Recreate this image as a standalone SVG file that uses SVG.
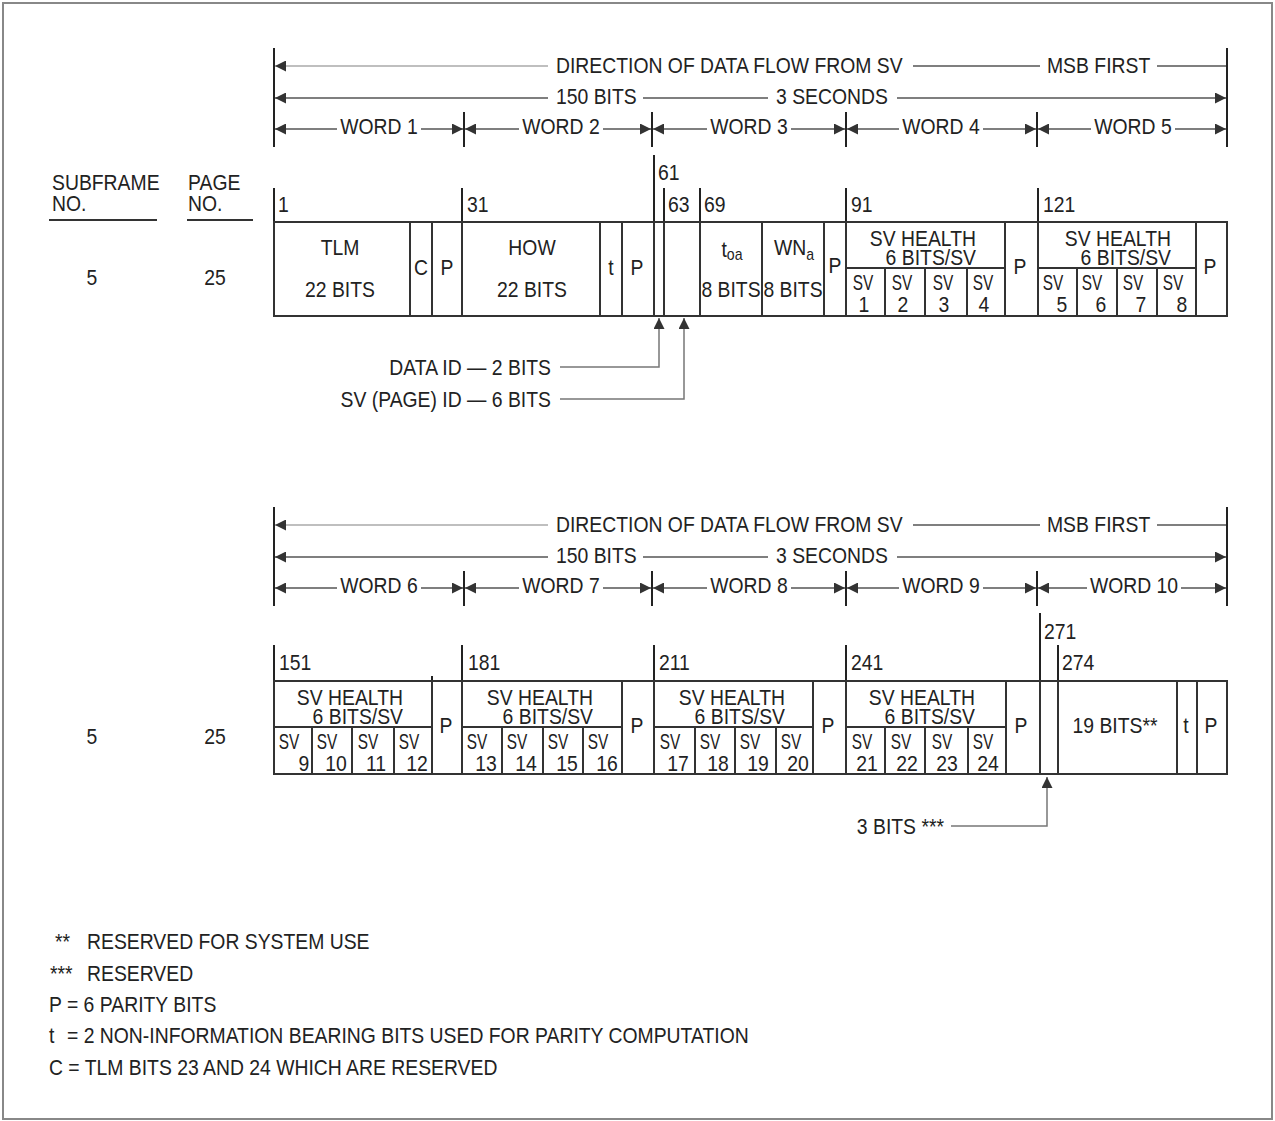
<svg xmlns="http://www.w3.org/2000/svg" width="1275" height="1121" viewBox="0 0 1275 1121">
<style>
text{font-family:"Liberation Sans",Arial,Helvetica,sans-serif;font-size:22px;fill:#222}
.m{text-anchor:middle}
.e{text-anchor:end}
.ln{stroke:#555;stroke-width:1.4;fill:none}
.lt{stroke:#aaa}
.tk{stroke:#222;stroke-width:2}
.bx{fill:none;stroke:#333;stroke-width:2}
.cn{stroke:#777;stroke-width:1.5;fill:none}
.ul{stroke:#333;stroke-width:2}
.sub{font-size:16px}
</style>
<defs>
<marker id="ah" viewBox="0 0 11 11" refX="11" refY="5.5" markerWidth="11" markerHeight="11" markerUnits="userSpaceOnUse" orient="auto-start-reverse"><path d="M0,0L11,5.5L0,11z" fill="#333"/></marker>
</defs>
<rect x="3" y="3" width="1269" height="1116" fill="#fff" stroke="#888" stroke-width="2"/>

<!-- ===== connectors ===== -->
<g id="connectors">
 <g id="dims-1">
  <line class="ln lt" x1="275" y1="66" x2="548" y2="66" marker-start="url(#ah)"/>
  <line class="ln" x1="913" y1="66" x2="1040" y2="66"/>
  <line class="ln" x1="1157" y1="66" x2="1227" y2="66"/>
  <line class="ln" x1="275" y1="98" x2="548" y2="98" marker-start="url(#ah)"/>
  <line class="ln" x1="643" y1="98" x2="768" y2="98"/>
  <line class="ln" x1="897" y1="98" x2="1226" y2="98" marker-end="url(#ah)"/>
  <line class="ln" x1="275" y1="129" x2="337" y2="129" marker-start="url(#ah)"/>
  <line class="ln" x1="421" y1="129" x2="463" y2="129" marker-end="url(#ah)"/>
  <line class="ln" x1="465" y1="129" x2="519" y2="129" marker-start="url(#ah)"/>
  <line class="ln" x1="603" y1="129" x2="651" y2="129" marker-end="url(#ah)"/>
  <line class="ln" x1="653" y1="129" x2="707" y2="129" marker-start="url(#ah)"/>
  <line class="ln" x1="791" y1="129" x2="845" y2="129" marker-end="url(#ah)"/>
  <line class="ln" x1="847" y1="129" x2="899" y2="129" marker-start="url(#ah)"/>
  <line class="ln" x1="983" y1="129" x2="1036" y2="129" marker-end="url(#ah)"/>
  <line class="ln" x1="1038" y1="129" x2="1091" y2="129" marker-start="url(#ah)"/>
  <line class="ln" x1="1175" y1="129" x2="1226" y2="129" marker-end="url(#ah)"/>
 </g>
 <g id="dims-2" transform="translate(0 459)">
  <line class="ln lt" x1="275" y1="66" x2="548" y2="66" marker-start="url(#ah)"/>
  <line class="ln" x1="913" y1="66" x2="1040" y2="66"/>
  <line class="ln" x1="1157" y1="66" x2="1227" y2="66"/>
  <line class="ln" x1="275" y1="98" x2="548" y2="98" marker-start="url(#ah)"/>
  <line class="ln" x1="643" y1="98" x2="768" y2="98"/>
  <line class="ln" x1="897" y1="98" x2="1226" y2="98" marker-end="url(#ah)"/>
  <line class="ln" x1="275" y1="129" x2="337" y2="129" marker-start="url(#ah)"/>
  <line class="ln" x1="421" y1="129" x2="463" y2="129" marker-end="url(#ah)"/>
  <line class="ln" x1="465" y1="129" x2="519" y2="129" marker-start="url(#ah)"/>
  <line class="ln" x1="603" y1="129" x2="651" y2="129" marker-end="url(#ah)"/>
  <line class="ln" x1="653" y1="129" x2="707" y2="129" marker-start="url(#ah)"/>
  <line class="ln" x1="791" y1="129" x2="845" y2="129" marker-end="url(#ah)"/>
  <line class="ln" x1="847" y1="129" x2="899" y2="129" marker-start="url(#ah)"/>
  <line class="ln" x1="983" y1="129" x2="1036" y2="129" marker-end="url(#ah)"/>
  <line class="ln" x1="1038" y1="129" x2="1087" y2="129" marker-start="url(#ah)"/>
  <line class="ln" x1="1181" y1="129" x2="1226" y2="129" marker-end="url(#ah)"/>
 </g>
 <polyline class="cn" points="560,367 659,367 659,318" marker-end="url(#ah)"/>
 <polyline class="cn" points="560,399 684,399 684,318" marker-end="url(#ah)"/>
 <polyline class="cn" points="951,826 1047,826 1047,777" marker-end="url(#ah)"/>
</g>

<!-- ===== header 1 ===== -->
<g id="header-1">
 <line class="tk" x1="274" y1="48" x2="274" y2="147"/>
 <line class="tk" x1="1227" y1="48" x2="1227" y2="147"/>
 <line class="tk" x1="464" y1="112" x2="464" y2="147"/>
 <line class="tk" x1="652" y1="112" x2="652" y2="147"/>
 <line class="tk" x1="846" y1="112" x2="846" y2="147"/>
 <line class="tk" x1="1037" y1="112" x2="1037" y2="147"/>
 <text transform="translate(556 73) scale(.88 1)">DIRECTION OF DATA FLOW FROM SV</text>
 <text transform="translate(1047 73) scale(.88 1)">MSB FIRST</text>
 <text transform="translate(556 104) scale(.88 1)">150 BITS</text>
 <text transform="translate(776 104) scale(.88 1)">3 SECONDS</text>
 <text class="m" transform="translate(379 134) scale(.88 1)">WORD 1</text>
 <text class="m" transform="translate(561 134) scale(.88 1)">WORD 2</text>
 <text class="m" transform="translate(749 134) scale(.88 1)">WORD 3</text>
 <text class="m" transform="translate(941 134) scale(.88 1)">WORD 4</text>
 <text class="m" transform="translate(1133 134) scale(.88 1)">WORD 5</text>
</g>

<!-- ===== header 2 ===== -->
<g id="header-2" transform="translate(0 459)">
 <line class="tk" x1="274" y1="48" x2="274" y2="147"/>
 <line class="tk" x1="1227" y1="48" x2="1227" y2="147"/>
 <line class="tk" x1="464" y1="112" x2="464" y2="147"/>
 <line class="tk" x1="652" y1="112" x2="652" y2="147"/>
 <line class="tk" x1="846" y1="112" x2="846" y2="147"/>
 <line class="tk" x1="1037" y1="112" x2="1037" y2="147"/>
 <text transform="translate(556 73) scale(.88 1)">DIRECTION OF DATA FLOW FROM SV</text>
 <text transform="translate(1047 73) scale(.88 1)">MSB FIRST</text>
 <text transform="translate(556 104) scale(.88 1)">150 BITS</text>
 <text transform="translate(776 104) scale(.88 1)">3 SECONDS</text>
 <text class="m" transform="translate(379 134) scale(.88 1)">WORD 6</text>
 <text class="m" transform="translate(561 134) scale(.88 1)">WORD 7</text>
 <text class="m" transform="translate(749 134) scale(.88 1)">WORD 8</text>
 <text class="m" transform="translate(941 134) scale(.88 1)">WORD 9</text>
 <text class="m" transform="translate(1134 134) scale(.88 1)">WORD 10</text>
</g>

<!-- ===== left labels ===== -->
<g id="labels">
 <text transform="translate(52 190) scale(.88 1)">SUBFRAME</text>
 <text transform="translate(52 211) scale(.88 1)">NO.</text>
 <text transform="translate(188 190) scale(.88 1)">PAGE</text>
 <text transform="translate(188 211) scale(.88 1)">NO.</text>
 <line class="ul" x1="49" y1="220" x2="157" y2="220"/>
 <line class="ul" x1="187" y1="220" x2="253" y2="220"/>
 <text class="m" transform="translate(92 285) scale(.88 1)">5</text>
 <text class="m" transform="translate(215 285) scale(.88 1)">25</text>
 <text class="m" transform="translate(92 744) scale(.88 1)">5</text>
 <text class="m" transform="translate(215 744) scale(.88 1)">25</text>
</g>

<!-- ===== table 1 ===== -->
<g id="table-1">
 <g id="t1-ticks">
  <line class="tk" x1="274" y1="188" x2="274" y2="222"/>
  <line class="tk" x1="462" y1="188" x2="462" y2="222"/>
  <line class="tk" x1="654" y1="155" x2="654" y2="222"/>
  <line class="tk" x1="664" y1="188" x2="664" y2="222"/>
  <line class="tk" x1="700" y1="188" x2="700" y2="222"/>
  <line class="tk" x1="846" y1="188" x2="846" y2="222"/>
  <line class="tk" x1="1038" y1="188" x2="1038" y2="222"/>
  <text transform="translate(278 212) scale(.88 1)">1</text>
  <text transform="translate(467 212) scale(.88 1)">31</text>
  <text transform="translate(658 180) scale(.88 1)">61</text>
  <text transform="translate(668 212) scale(.88 1)">63</text>
  <text transform="translate(704 212) scale(.88 1)">69</text>
  <text transform="translate(851 212) scale(.88 1)">91</text>
  <text transform="translate(1043 212) scale(.88 1)">121</text>
 </g>
 <g id="t1-tlm"><rect class="bx" x="274" y="222" width="136" height="94"/>
  <text class="m" transform="translate(340 255) scale(.88 1)">TLM</text>
  <text class="m" transform="translate(340 297) scale(.88 1)">22 BITS</text></g>
 <g id="t1-c"><rect class="bx" x="410" y="222" width="22" height="94"/>
  <text class="m" transform="translate(421 275) scale(.88 1)">C</text></g>
 <g id="t1-p1"><rect class="bx" x="432" y="222" width="30" height="94"/>
  <text class="m" transform="translate(447 275) scale(.88 1)">P</text></g>
 <g id="t1-how"><rect class="bx" x="462" y="222" width="138" height="94"/>
  <text class="m" transform="translate(532 255) scale(.88 1)">HOW</text>
  <text class="m" transform="translate(532 297) scale(.88 1)">22 BITS</text></g>
 <g id="t1-t"><rect class="bx" x="600" y="222" width="22" height="94"/>
  <text class="m" transform="translate(611 275) scale(.88 1)">t</text></g>
 <g id="t1-p2"><rect class="bx" x="622" y="222" width="32" height="94"/>
  <text class="m" transform="translate(637 275) scale(.88 1)">P</text></g>
 <g id="t1-dataid"><rect class="bx" x="654" y="222" width="10" height="94"/></g>
 <g id="t1-svid"><rect class="bx" x="664" y="222" width="36" height="94"/></g>
 <g id="t1-toa"><rect class="bx" x="700" y="222" width="62" height="94"/>
  <text class="m" transform="translate(732 257) scale(.88 1)">t<tspan class="sub" dy="3">oa</tspan></text>
  <text class="m" transform="translate(731 297) scale(.88 1)">8 BITS</text></g>
 <g id="t1-wna"><rect class="bx" x="762" y="222" width="62" height="94"/>
  <text class="m" transform="translate(794 255) scale(.88 1)">WN<tspan class="sub" dy="5">a</tspan></text>
  <text class="m" transform="translate(793 297) scale(.88 1)">8 BITS</text></g>
 <g id="t1-p3"><rect class="bx" x="824" y="222" width="22" height="94"/>
  <text class="m" transform="translate(835 273) scale(.88 1)">P</text></g>
 <g id="t1-svh1">
  <rect class="bx" x="846" y="222" width="159" height="46"/>
  <rect class="bx" x="846" y="268" width="39" height="48"/>
  <rect class="bx" x="885" y="268" width="40" height="48"/>
  <rect class="bx" x="925" y="268" width="42" height="48"/>
  <rect class="bx" x="967" y="268" width="38" height="48"/>
  <text class="e" transform="translate(976 246) scale(.88 1)">SV HEALTH</text>
  <text class="e" transform="translate(976 265) scale(.88 1)">6 BITS/SV</text>
  <text class="m" transform="translate(863 290) scale(.7 1)">SV</text>
  <text class="m" transform="translate(902 290) scale(.7 1)">SV</text>
  <text class="m" transform="translate(943 290) scale(.7 1)">SV</text>
  <text class="m" transform="translate(983 290) scale(.7 1)">SV</text>
  <text class="m" transform="translate(864 312) scale(.88 1)">1</text>
  <text class="m" transform="translate(903 312) scale(.88 1)">2</text>
  <text class="m" transform="translate(944 312) scale(.88 1)">3</text>
  <text class="m" transform="translate(984 312) scale(.88 1)">4</text>
 </g>
 <g id="t1-p4"><rect class="bx" x="1005" y="222" width="33" height="94"/>
  <text class="m" transform="translate(1020 274) scale(.88 1)">P</text></g>
 <g id="t1-svh2">
  <rect class="bx" x="1038" y="222" width="158" height="46"/>
  <rect class="bx" x="1038" y="268" width="39" height="48"/>
  <rect class="bx" x="1077" y="268" width="40" height="48"/>
  <rect class="bx" x="1117" y="268" width="40" height="48"/>
  <rect class="bx" x="1157" y="268" width="39" height="48"/>
  <text class="e" transform="translate(1171 246) scale(.88 1)">SV HEALTH</text>
  <text class="e" transform="translate(1171 265) scale(.88 1)">6 BITS/SV</text>
  <text class="m" transform="translate(1053 290) scale(.7 1)">SV</text>
  <text class="m" transform="translate(1092 290) scale(.7 1)">SV</text>
  <text class="m" transform="translate(1133 290) scale(.7 1)">SV</text>
  <text class="m" transform="translate(1173 290) scale(.7 1)">SV</text>
  <text class="m" transform="translate(1062 312) scale(.88 1)">5</text>
  <text class="m" transform="translate(1101 312) scale(.88 1)">6</text>
  <text class="m" transform="translate(1141 312) scale(.88 1)">7</text>
  <text class="m" transform="translate(1182 312) scale(.88 1)">8</text>
 </g>
 <g id="t1-p5"><rect class="bx" x="1196" y="222" width="31" height="94"/>
  <text class="m" transform="translate(1210 274) scale(.88 1)">P</text></g>
</g>

<g id="callout-dataid"><text class="e" transform="translate(551 375) scale(.88 1)">DATA ID — 2 BITS</text></g>
<g id="callout-svid"><text class="e" transform="translate(551 407) scale(.88 1)">SV (PAGE) ID — 6 BITS</text></g>

<!-- ===== table 2 ===== -->
<g id="table-2">
 <g id="t2-ticks">
  <line class="tk" x1="274" y1="645" x2="274" y2="681"/>
  <line class="tk" x1="462" y1="645" x2="462" y2="681"/>
  <line class="tk" x1="654" y1="645" x2="654" y2="681"/>
  <line class="tk" x1="846" y1="645" x2="846" y2="681"/>
  <line class="tk" x1="1040" y1="613" x2="1040" y2="681"/>
  <line class="tk" x1="1058" y1="645" x2="1058" y2="681"/>
  <line class="tk" x1="432" y1="676" x2="432" y2="681"/>
  <text transform="translate(279 670) scale(.88 1)">151</text>
  <text transform="translate(468 670) scale(.88 1)">181</text>
  <text transform="translate(659 670) scale(.88 1)">211</text>
  <text transform="translate(851 670) scale(.88 1)">241</text>
  <text transform="translate(1044 639) scale(.88 1)">271</text>
  <text transform="translate(1062 670) scale(.88 1)">274</text>
 </g>
 <g id="t2-svh1">
  <rect class="bx" x="274" y="681" width="158" height="46"/>
  <rect class="bx" x="274" y="727" width="38" height="47"/>
  <rect class="bx" x="312" y="727" width="40" height="47"/>
  <rect class="bx" x="352" y="727" width="42" height="47"/>
  <rect class="bx" x="394" y="727" width="38" height="47"/>
  <text class="e" transform="translate(403 705) scale(.88 1)">SV HEALTH</text>
  <text class="e" transform="translate(403 724) scale(.88 1)">6 BITS/SV</text>
  <text class="m" transform="translate(289 749) scale(.7 1)">SV</text>
  <text class="m" transform="translate(327 749) scale(.7 1)">SV</text>
  <text class="m" transform="translate(368 749) scale(.7 1)">SV</text>
  <text class="m" transform="translate(409 749) scale(.7 1)">SV</text>
  <text class="m" transform="translate(304 771) scale(.88 1)">9</text>
  <text class="m" transform="translate(336 771) scale(.88 1)">10</text>
  <text class="m" transform="translate(376 771) scale(.88 1)">11</text>
  <text class="m" transform="translate(417 771) scale(.88 1)">12</text>
 </g>
 <g id="t2-p1"><rect class="bx" x="432" y="681" width="30" height="93"/>
  <text class="m" transform="translate(446 733) scale(.88 1)">P</text></g>
 <g id="t2-svh2">
  <rect class="bx" x="462" y="681" width="160" height="46"/>
  <rect class="bx" x="462" y="727" width="40" height="47"/>
  <rect class="bx" x="502" y="727" width="41" height="47"/>
  <rect class="bx" x="543" y="727" width="40" height="47"/>
  <rect class="bx" x="583" y="727" width="39" height="47"/>
  <text class="e" transform="translate(593 705) scale(.88 1)">SV HEALTH</text>
  <text class="e" transform="translate(593 724) scale(.88 1)">6 BITS/SV</text>
  <text class="m" transform="translate(477 749) scale(.7 1)">SV</text>
  <text class="m" transform="translate(517 749) scale(.7 1)">SV</text>
  <text class="m" transform="translate(558 749) scale(.7 1)">SV</text>
  <text class="m" transform="translate(598 749) scale(.7 1)">SV</text>
  <text class="m" transform="translate(486 771) scale(.88 1)">13</text>
  <text class="m" transform="translate(526 771) scale(.88 1)">14</text>
  <text class="m" transform="translate(567 771) scale(.88 1)">15</text>
  <text class="m" transform="translate(607 771) scale(.88 1)">16</text>
 </g>
 <g id="t2-p2"><rect class="bx" x="622" y="681" width="32" height="93"/>
  <text class="m" transform="translate(637 733) scale(.88 1)">P</text></g>
 <g id="t2-svh3">
  <rect class="bx" x="654" y="681" width="159" height="46"/>
  <rect class="bx" x="654" y="727" width="41" height="47"/>
  <rect class="bx" x="695" y="727" width="40" height="47"/>
  <rect class="bx" x="735" y="727" width="41" height="47"/>
  <rect class="bx" x="776" y="727" width="37" height="47"/>
  <text class="e" transform="translate(785 705) scale(.88 1)">SV HEALTH</text>
  <text class="e" transform="translate(785 724) scale(.88 1)">6 BITS/SV</text>
  <text class="m" transform="translate(670 749) scale(.7 1)">SV</text>
  <text class="m" transform="translate(710 749) scale(.7 1)">SV</text>
  <text class="m" transform="translate(750 749) scale(.7 1)">SV</text>
  <text class="m" transform="translate(791 749) scale(.7 1)">SV</text>
  <text class="m" transform="translate(678 771) scale(.88 1)">17</text>
  <text class="m" transform="translate(718 771) scale(.88 1)">18</text>
  <text class="m" transform="translate(758 771) scale(.88 1)">19</text>
  <text class="m" transform="translate(798 771) scale(.88 1)">20</text>
 </g>
 <g id="t2-p3"><rect class="bx" x="813" y="681" width="33" height="93"/>
  <text class="m" transform="translate(828 733) scale(.88 1)">P</text></g>
 <g id="t2-svh4">
  <rect class="bx" x="846" y="681" width="160" height="46"/>
  <rect class="bx" x="846" y="727" width="39" height="47"/>
  <rect class="bx" x="885" y="727" width="40" height="47"/>
  <rect class="bx" x="925" y="727" width="43" height="47"/>
  <rect class="bx" x="968" y="727" width="38" height="47"/>
  <text class="e" transform="translate(975 705) scale(.88 1)">SV HEALTH</text>
  <text class="e" transform="translate(975 724) scale(.88 1)">6 BITS/SV</text>
  <text class="m" transform="translate(862 749) scale(.7 1)">SV</text>
  <text class="m" transform="translate(901 749) scale(.7 1)">SV</text>
  <text class="m" transform="translate(942 749) scale(.7 1)">SV</text>
  <text class="m" transform="translate(983 749) scale(.7 1)">SV</text>
  <text class="m" transform="translate(867 771) scale(.88 1)">21</text>
  <text class="m" transform="translate(907 771) scale(.88 1)">22</text>
  <text class="m" transform="translate(947 771) scale(.88 1)">23</text>
  <text class="m" transform="translate(988 771) scale(.88 1)">24</text>
 </g>
 <g id="t2-p4"><rect class="bx" x="1006" y="681" width="34" height="93"/>
  <text class="m" transform="translate(1021 733) scale(.88 1)">P</text></g>
 <g id="t2-res3"><rect class="bx" x="1040" y="681" width="18" height="93"/></g>
 <g id="t2-19bits"><rect class="bx" x="1058" y="681" width="119" height="93"/>
  <text class="m" transform="translate(1115 733) scale(.88 1)">19 BITS**</text></g>
 <g id="t2-t"><rect class="bx" x="1177" y="681" width="20" height="93"/>
  <text class="m" transform="translate(1186 733) scale(.88 1)">t</text></g>
 <g id="t2-p5"><rect class="bx" x="1197" y="681" width="30" height="93"/>
  <text class="m" transform="translate(1211 733) scale(.88 1)">P</text></g>
</g>

<g id="callout-3bits"><text class="e" transform="translate(944 834) scale(.88 1)">3 BITS ***</text></g>

<!-- ===== notes ===== -->
<g id="notes">
 <text transform="translate(55 949) scale(.88 1)">**</text>
 <text transform="translate(87 949) scale(.88 1)">RESERVED FOR SYSTEM USE</text>
 <text transform="translate(50 981) scale(.88 1)">***</text>
 <text transform="translate(87 981) scale(.88 1)">RESERVED</text>
 <text transform="translate(49 1012) scale(.88 1)">P = 6 PARITY BITS</text>
 <text transform="translate(49 1043) scale(.88 1)">t</text>
 <text transform="translate(67 1043) scale(.88 1)">= 2 NON-INFORMATION BEARING BITS USED FOR PARITY COMPUTATION</text>
 <text transform="translate(49 1075) scale(.88 1)">C = TLM BITS 23 AND 24 WHICH ARE RESERVED</text>
</g>
</svg>
